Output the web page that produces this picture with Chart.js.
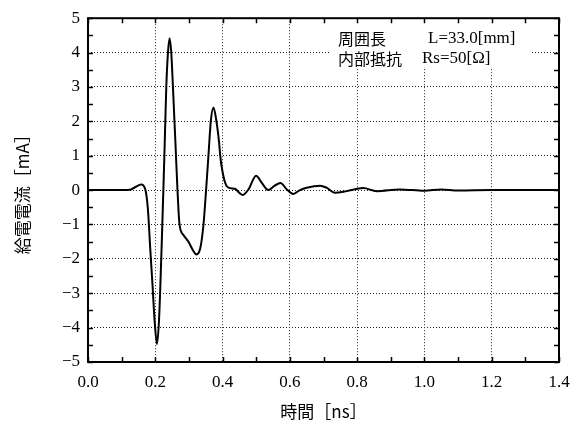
<!DOCTYPE html>
<html lang="ja">
<head>
<meta charset="UTF-8">
<title>給電電流</title>
<script src="https://cdn.jsdelivr.net/npm/chart.js"></script>
<style>
  html, body { margin: 0; padding: 0; background: #fff; }
</style>
</head>
<body>
<canvas id="chart" width="585" height="426"></canvas>
<script>
// 時間 [ns]
const timeNs = [
  0.0, 0.10, 0.125, 0.141, 0.158, 0.170, 0.178, 0.185, 0.192, 0.198,
  0.205, 0.211, 0.215, 0.219, 0.224, 0.228, 0.2327, 0.2377, 0.2425, 0.2475,
  0.2525, 0.257, 0.260, 0.266, 0.272, 0.284, 0.299, 0.312, 0.322, 0.3335,
  0.343, 0.351, 0.358, 0.365, 0.373, 0.381, 0.390, 0.393, 0.405, 0.4175,
  0.437, 0.450, 0.460, 0.477, 0.4997, 0.5165, 0.536, 0.554, 0.572, 0.591,
  0.610, 0.630, 0.650, 0.690, 0.709, 0.734, 0.769, 0.818, 0.858, 0.927,
  1.0, 1.05, 1.10, 1.20, 1.40
];
// 給電電流 [mA]
const currentMa = [
  0, 0, 0.01, 0.09, 0.16, 0.03, -0.55, -1.7, -2.8, -3.8,
  -4.48, -3.8, -2.8, -1.6, 0, 1.35, 3.0, 4.0, 4.42, 4.0,
  3.0, 2.0, 1.35, 0, -1.0, -1.31, -1.51, -1.75, -1.87, -1.7,
  -1.03, 0, 1.0, 2.0, 2.4, 2.05, 1.35, 1.0, 0.3, 0.07,
  0.04, -0.08, -0.14, 0.02, 0.42, 0.21, 0, 0.12, 0.21, 0.02,
  -0.11, 0, 0.07, 0.13, 0.07, -0.08, -0.03, 0.06, -0.03, 0.02,
  -0.02, 0.02, -0.01, 0, 0
];

const xRange = [0, 1.4];
const yRange = [-5, 5];

// 注記
const noteRows = [
  ['周囲長', 'L=33.0[mm]'],
  ['内部抵抗', 'Rs=50[Ω]']
];

const points = timeNs.map((t, i) => ({ x: t, y: currentMa[i] }));

const serif = '"Liberation Serif", "DejaVu Serif", serif';
const cjk = '"Noto Sans CJK JP", sans-serif';

// 枠と内向き目盛り、注記
const framePlugin = {
  id: 'frame',
  afterDatasetsDraw(chart) {
    const { ctx, chartArea: a, scales } = chart;
    ctx.save();
    // 注記の背景
    ctx.fillStyle = '#fff';
    ctx.fillRect(331, 19, 200, 48);
    ctx.fillStyle = '#000';
    ctx.textBaseline = 'middle';
    ctx.font = '16px ' + cjk;
    ctx.fillText(noteRows[0][0], 338, 39);
    ctx.fillText(noteRows[1][0], 338, 59);
    ctx.font = '17px ' + serif;
    ctx.fillText(noteRows[0][1], 428, 39);
    ctx.fillText(noteRows[1][1], 422, 59);

    ctx.strokeStyle = '#000';
    ctx.lineWidth = 2;
    ctx.strokeRect(a.left, a.top, a.right - a.left, a.bottom - a.top);
    ctx.lineWidth = 1.5;
    const len = 5;
    ctx.beginPath();
    scales.x.ticks.forEach(tk => {
      const px = Math.round(scales.x.getPixelForValue(tk.value)) + 0.5;
      ctx.moveTo(px, a.bottom); ctx.lineTo(px, a.bottom - len);
      ctx.moveTo(px, a.top); ctx.lineTo(px, a.top + len);
    });
    scales.y.ticks.forEach(tk => {
      const py = Math.round(scales.y.getPixelForValue(tk.value)) + 0.5;
      ctx.moveTo(a.left, py); ctx.lineTo(a.left + len, py);
      ctx.moveTo(a.right, py); ctx.lineTo(a.right - len, py);
    });
    ctx.stroke();
    ctx.restore();
  }
};

const isMajorX = v => Math.round(v * 10) % 2 === 0;
const isMajorY = v => Math.abs(v - Math.round(v)) < 1e-6;

new Chart(document.getElementById('chart'), {
  type: 'line',
  data: {
    datasets: [{
      data: points,
      borderColor: '#000',
      borderWidth: 2,
      pointRadius: 0,
      fill: false,
      cubicInterpolationMode: 'monotone'
    }]
  },
  options: {
    responsive: false,
    animation: false,
    devicePixelRatio: 1,
    layout: { padding: { left: 0, top: 12, right: 26, bottom: 0 } },
    plugins: { legend: { display: false }, tooltip: { enabled: false } },
    scales: {
      x: {
        type: 'linear',
        min: xRange[0],
        max: xRange[1],
        afterFit: s => { s.height = 64; },
        border: { display: false, dash: [1, 2] },
        grid: {
          drawTicks: false,
          color: c => (isMajorX(c.tick.value) && c.tick.value > 0 && c.tick.value < 1.4) ? '#222' : 'rgba(0,0,0,0)',
          lineWidth: 1,
          tickLength: 0
        },
        ticks: {
          stepSize: 0.1,
          padding: 10,
          color: '#000',
          font: { family: serif, size: 17 },
          maxRotation: 0,
          autoSkip: false,
          callback: v => isMajorX(v) ? v.toFixed(1) : ''
        },
        title: {
          display: true,
          text: '時間［ns］',
          color: '#000',
          font: { family: cjk, size: 17 },
          padding: { top: 0, bottom: 4 }
        }
      },
      y: {
        min: yRange[0],
        max: yRange[1],
        afterFit: s => { s.width = 88; },
        border: { display: false, dash: [1, 2] },
        grid: {
          drawTicks: false,
          color: c => (isMajorY(c.tick.value) && c.tick.value > -5 && c.tick.value < 5) ? '#222' : 'rgba(0,0,0,0)',
          lineWidth: 1,
          tickLength: 0
        },
        ticks: {
          stepSize: 0.5,
          padding: 8,
          color: '#000',
          font: { family: serif, size: 17 },
          autoSkip: false,
          callback: v => isMajorY(v) ? (v < 0 ? '\u2212' + Math.abs(v) : String(v)) : ''
        },
        title: {
          display: true,
          text: '給電電流［mA］',
          color: '#000',
          font: { family: cjk, size: 17 },
          padding: { top: 12, bottom: 0 }
        }
      }
    }
  },
  plugins: [framePlugin]
});
</script>
</body>
</html>
